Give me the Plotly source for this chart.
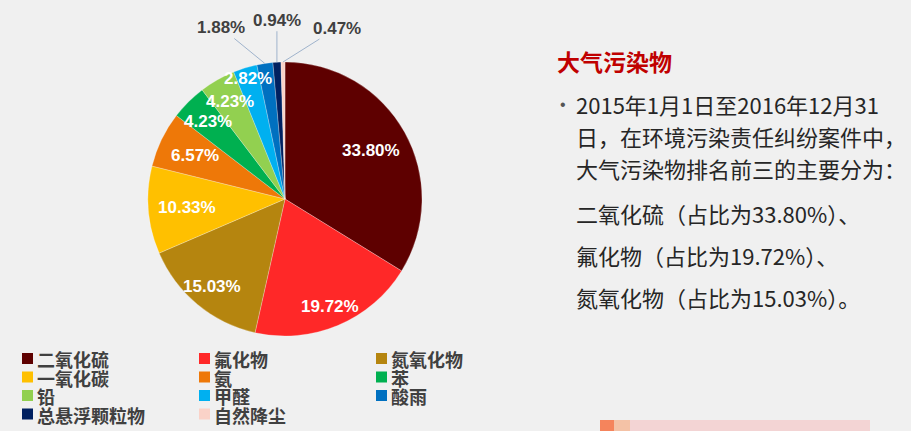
import math
import plotly.graph_objects as go

# ---- data ----
categories = ["二氧化硫", "氟化物", "氮氧化物", "一氧化碳", "氨", "苯",
              "铅", "甲醛", "酸雨", "总悬浮颗粒物", "自然降尘"]
shares = [33.80, 19.72, 15.03, 10.33, 6.57, 4.23, 4.23, 2.82, 1.88, 0.94, 0.47]
colors = ["#5e0000", "#ff2828", "#b5850f", "#ffc000", "#ee7808", "#00b050",
          "#92d050", "#00b0f0", "#0070c0", "#002060", "#fad2c8"]

title_text = "大气污染物"
body_lines = ["2015年1月1日至2016年12月31",
              "日，在环境污染责任纠纷案件中，",
              "大气污染物排名前三的主要分为："]
top3_lines = ["二氧化硫（占比为33.80%）、",
              "氟化物（占比为19.72%）、",
              "氮氧化物（占比为15.03%）。"]

# ---- layout constants ----
W, H = 911, 431
CX, CY, R = 285, 199, 137          # pie centre / radius in pixels
inside_r = [0.72, 0.85, 0.83, 0.72, 0.73, 0.80, 0.82, 0.92]   # label radius fractions
outside_off = [(-44, -36), (0, -42), (54, -34)]               # leader label offsets (px)

def px(x):
    return x / W

def py(y):
    return 1 - y / H

fig = go.Figure()
fig.add_trace(go.Pie(
    labels=categories, values=shares, sort=False, direction="clockwise",
    rotation=0, marker=dict(colors=colors, line=dict(color="rgba(255,255,255,0.5)", width=0.5)),
    textinfo="none", hoverinfo="label+percent", showlegend=False,
    domain=dict(x=[px(CX - R), px(CX + R)], y=[py(CY + R), py(CY - R)]),
))

total = sum(shares)
annotations = []
shapes = []
cum = 0.0
for i, v in enumerate(shares):
    theta = 2 * math.pi * (cum + v / 2) / total
    cum += v
    label = f"{v:.2f}%"
    if i < len(inside_r):
        r = inside_r[i] * R
        x = CX + r * math.sin(theta)
        y = CY - r * math.cos(theta)
        annotations.append(dict(x=px(x), y=py(y), xref="paper", yref="paper",
                                text=label, showarrow=False, xanchor="center", yanchor="middle",
                                font=dict(family="Liberation Sans", size=17, color="white", weight="bold")))
    else:
        ax, ay = outside_off[i - len(inside_r)]
        x = CX + R * math.sin(theta)
        y = CY - R * math.cos(theta)
        annotations.append(dict(x=px(x), y=py(y), xref="paper", yref="paper",
                                text=label, showarrow=True, arrowhead=0, arrowwidth=1,
                                arrowcolor="#9fb3cc", ax=ax, ay=ay, standoff=0,
                                font=dict(family="Liberation Sans", size=17, color="#404040", weight="bold")))

# ---- legend (3 columns) ----
leg_x = [22, 199, 376]
leg_y0, leg_dy = 358.5, 18.5
for i, (name, col) in enumerate(zip(categories, colors)):
    r, c = divmod(i, 3)
    x0 = leg_x[c]
    yc = leg_y0 + r * leg_dy
    shapes.append(dict(type="rect", xref="paper", yref="paper",
                       x0=px(x0), x1=px(x0 + 11), y0=py(yc + 5.5), y1=py(yc - 5.5),
                       fillcolor=col, line=dict(width=0)))
    annotations.append(dict(x=px(x0 + 13), y=py(yc + 0.5), xref="paper", yref="paper",
                            text=name, showarrow=False, xanchor="left", yanchor="middle",
                            font=dict(family="Noto Sans CJK SC", size=18, color="#404040", weight="bold")))

# ---- right-hand text ----
annotations.append(dict(x=px(555), y=py(61), xref="paper", yref="paper", text=title_text,
                        showarrow=False, xanchor="left", yanchor="middle",
                        font=dict(family="Noto Sans CJK SC", size=23, color="#c00000", weight="bold")))
annotations.append(dict(x=px(558), y=py(104), xref="paper", yref="paper", text="•",
                        showarrow=False, xanchor="left", yanchor="middle",
                        font=dict(family="Liberation Sans", size=16, color="#555555")))
for j, (t, yy) in enumerate(zip(body_lines + top3_lines, [104, 136, 168, 213, 255, 297])):
    annotations.append(dict(x=px(574), y=py(yy), xref="paper", yref="paper", text=t,
                            showarrow=False, xanchor="left", yanchor="middle",
                            font=dict(family="Noto Sans CJK SC", size=22, color="#262626")))

# ---- decorative strip bottom right ----
for x0, x1, col in [(600, 614, "#f5845c"), (614, 630, "#f4c2a6"), (630, 870, "#f3d4d4")]:
    shapes.append(dict(type="rect", xref="paper", yref="paper", x0=px(x0), x1=px(x1),
                       y0=0, y1=py(420), fillcolor=col, line=dict(width=0)))

fig.update_layout(width=W, height=H, margin=dict(l=0, r=0, t=0, b=0),
                  paper_bgcolor="#f0f0f0", plot_bgcolor="#f0f0f0",
                  annotations=annotations, shapes=shapes, showlegend=False)
fig.write_html("out.html")
